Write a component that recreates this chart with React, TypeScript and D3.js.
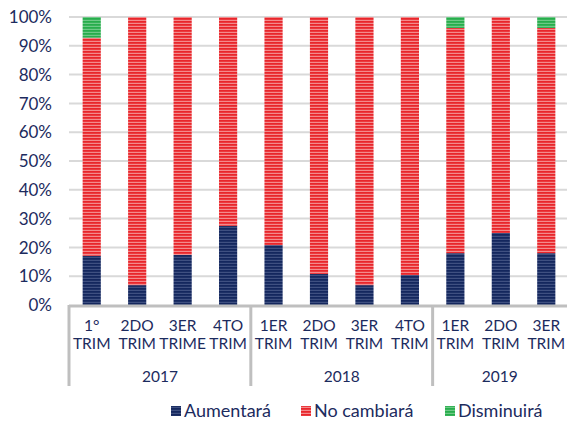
import React from "react";
import * as d3 from "d3";

const categories = [
  ["1°", "TRIM"], ["2DO", "TRIM"], ["3ER", "TRIME"], ["4TO", "TRIM"],
  ["1ER", "TRIM"], ["2DO", "TRIM"], ["3ER", "TRIM"], ["4TO", "TRIM"],
  ["1ER", "TRIM"], ["2DO", "TRIM"], ["3ER", "TRIM"],
];
const years = [
  { label: "2017", from: 0, to: 4 },
  { label: "2018", from: 4, to: 8 },
  { label: "2019", from: 8, to: 11 },
];
const aumentara = [17.1, 6.9, 17.4, 27.5, 20.8, 10.8, 6.9, 10.4, 18, 25, 18];
const noCambiara = [75.7, 93.1, 82.6, 72.5, 79.2, 89.2, 93.1, 89.6, 78.2, 75, 78.2];
const disminuira = [7.2, 0, 0, 0, 0, 0, 0, 0, 3.8, 0, 3.8];
const yTicks = [0, 10, 20, 30, 40, 50, 60, 70, 80, 90, 100];

const seriesDefs = [
  { key: "aum", name: "Aumentará", values: aumentara, base: "#14275e", stripe: "#4a5a8a" },
  { key: "noc", name: "No cambiará", values: noCambiara, base: "#e8262b", stripe: "#f6a3a4" },
  { key: "dis", name: "Disminuirá", values: disminuira, base: "#27ad4c", stripe: "#7fd096" },
];

const W = 567;
const H = 425;
const text = "#1c2b5e";
const font = "Lato, 'Open Sans', sans-serif";

export default function App() {
  const x = d3.scaleBand<number>().domain(d3.range(categories.length)).range([69, 569]).paddingInner(0.6).paddingOuter(0.3);
  const y = d3.scaleLinear().domain([0, 100]).range([305, 17]);
  const step = x.step();
  // left edge of a category slot; past the last one, the right end of the plot
  const left = (i: number) => (i >= categories.length ? 567 : (x(i) as number) - (x.paddingInner() * step) / 2);

  const stacked = categories.map((_, i) => {
    let acc = 0;
    return seriesDefs.map((s) => {
      const y0 = acc;
      acc += s.values[i];
      return { s, y0, y1: acc };
    });
  });

  return (
    <svg width={W} height={H} style={{ position: "absolute", left: 0, top: 0 }}>
      <defs>
        {seriesDefs.map((s) => (
          <pattern key={s.key} id={"p-" + s.key} width={4} height={3} patternUnits="userSpaceOnUse">
            <rect width={4} height={3} fill={s.base} />
            <rect y={1.8} width={4} height={1.2} fill={s.stripe} opacity={0.8} />
          </pattern>
        ))}
      </defs>
      <rect width={W} height={H} fill="white" />
      {yTicks.map((t) => (
        <g key={t}>
          {t > 0 && <line x1={69} x2={567} y1={y(t)} y2={y(t)} stroke="#d9d9d9" strokeWidth={2} />}
          <text x={52} y={y(t)} dy="0.36em" textAnchor="end" fontFamily={font} fontSize={17} fill={text}>
            {t}%
          </text>
        </g>
      ))}
      {stacked.map((segs, i) =>
        segs.filter((d) => d.y1 > d.y0).map((d) => (
          <rect
            key={i + d.s.key}
            x={x(i)}
            width={x.bandwidth()}
            y={y(d.y1)}
            height={y(d.y0) - y(d.y1)}
            fill={`url(#p-${d.s.key})`}
          />
        ))
      )}
      <line x1={69} x2={567} y1={306} y2={306} stroke="#bfbfbf" strokeWidth={3} />
      {years.map((g) => (
        <line key={"sep" + g.label} x1={left(g.from)} x2={left(g.from)} y1={305} y2={386} stroke="#bfbfbf" strokeWidth={3} />
      ))}
      {categories.map((c, i) => (
        <text key={"c" + i} x={(x(i) as number) + x.bandwidth() / 2} textAnchor="middle" fontFamily={font} fontSize={15.5} fill={text}>
          <tspan x={(x(i) as number) + x.bandwidth() / 2} y={331}>{c[0]}</tspan>
          <tspan x={(x(i) as number) + x.bandwidth() / 2} y={349}>{c[1]}</tspan>
        </text>
      ))}
      {years.map((g) => {
        const cx = (left(g.from) + left(g.to)) / 2;
        return (
          <text key={g.label} x={cx} y={382} textAnchor="middle" fontFamily={font} fontSize={15.5} fill={text}>
            {g.label}
          </text>
        );
      })}
      {seriesDefs.map((s, i) => {
        const lx = [171, 301, 445][i];
        return (
          <g key={"l" + s.key}>
            <rect x={lx} y={406} width={10} height={10} fill={`url(#p-${s.key})`} />
            <text x={lx + 13} y={417} fontFamily={font} fontSize={18} fill={text}>
              {s.name}
            </text>
          </g>
        );
      })}
    </svg>
  );
}
